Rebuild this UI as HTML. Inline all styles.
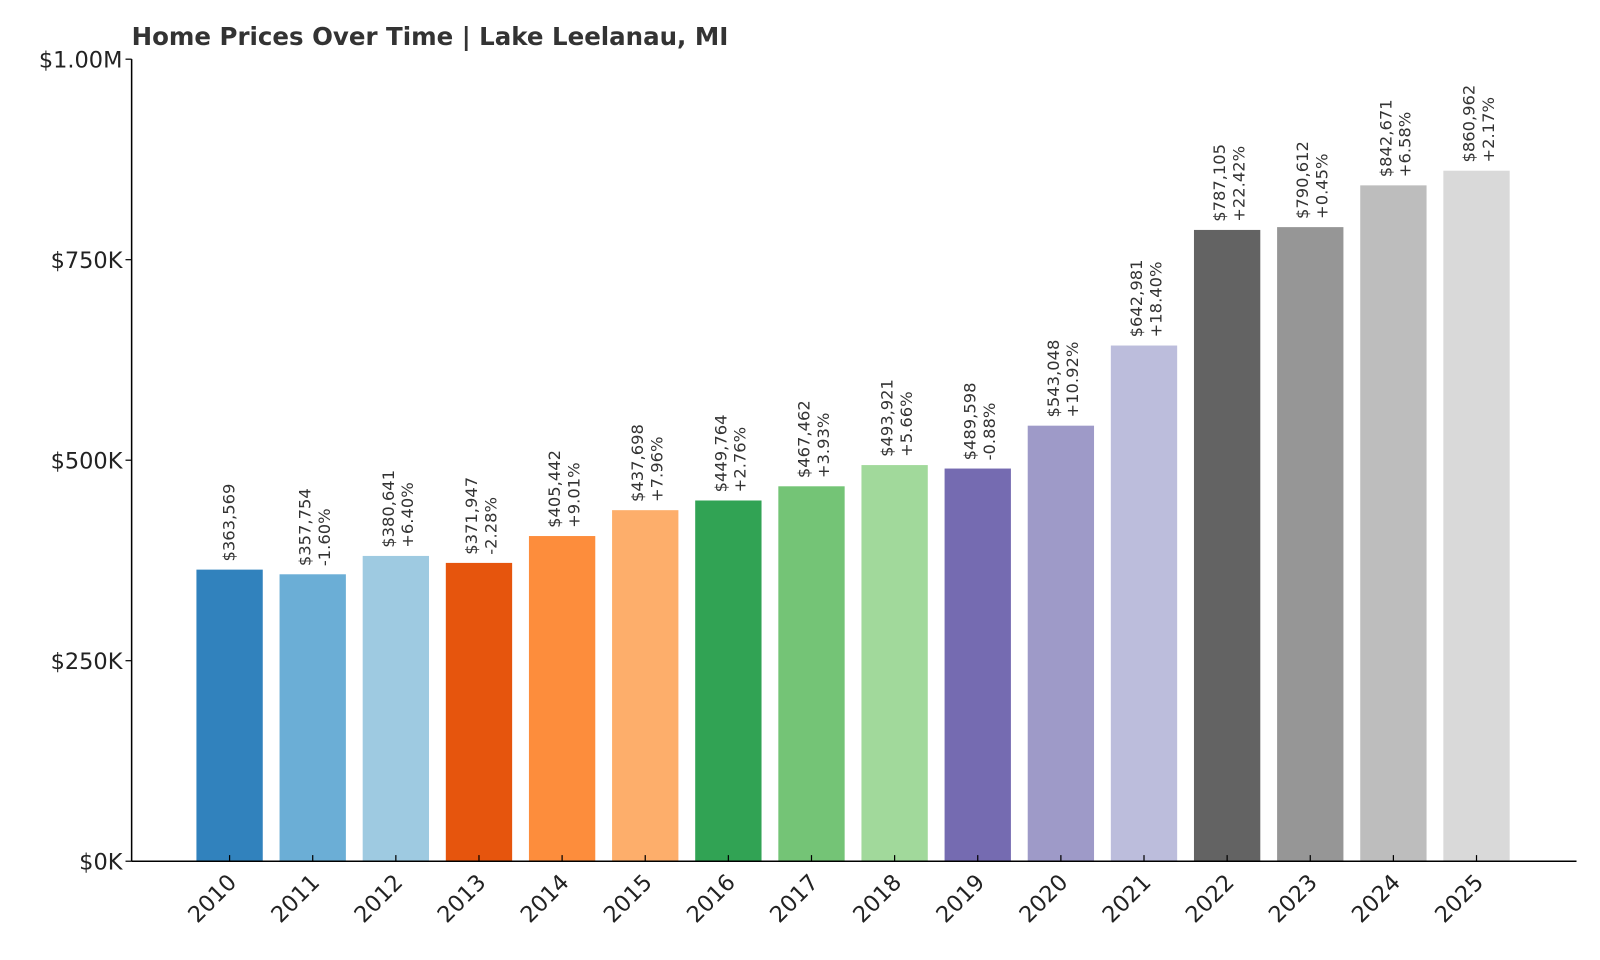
<!DOCTYPE html>
<html><head><meta charset="utf-8"><style>
body{margin:0;background:#fff;}
svg{display:block;font-family:"DejaVu Sans","Liberation Sans",sans-serif;}
</style></head><body>
<svg id="chart" width="1600" height="960" viewBox="0 0 1600 960">
<g transform="scale(1.0204)">
<text x="129" y="44" font-size="24" font-weight="bold" fill="#333">Home Prices Over Time | Lake Leelanau, MI</text>
<g id="plot"></g>
</g>
</svg>
<script>
const years=["2010","2011","2012","2013","2014","2015","2016","2017","2018","2019","2020","2021","2022","2023","2024","2025"];
const prices=[363569,357754,380641,371947,405442,437698,449764,467462,493921,489598,543048,642981,787105,790612,842671,860962];
const changes=["","-1.60%","+6.40%","-2.28%","+9.01%","+7.96%","+2.76%","+3.93%","+5.66%","-0.88%","+10.92%","+18.40%","+22.42%","+0.45%","+6.58%","+2.17%"];
const yTickValues=[0,250000,500000,750000,1000000];
const yTickLabels=["$0K","$250K","$500K","$750K","$1.00M"];
const colors=["#3182bd","#6baed6","#9ecae1","#e6550d","#fd8d3c","#fdae6b","#31a354","#74c476","#a1d99b","#756bb1","#9e9ac8","#bcbddc","#636363","#969696","#bdbdbd","#d9d9d9"];
const NS="http://www.w3.org/2000/svg";
const g=document.getElementById('plot');
const x0=129,x1=1545,yb=844,yt=58;
const y=v=>yb-(v/1000000)*(yb-yt);
const xc=i=>225+i*(1447-225)/15;
const bw=65;
function mk(t,a){const e=document.createElementNS(NS,t);for(const k in a)e.setAttribute(k,a[k]);g.appendChild(e);return e;}
years.forEach((yr,i)=>{
 const b=mk('rect',{x:xc(i)-bw/2,y:y(prices[i]),width:bw,height:yb-y(prices[i]),fill:colors[i]});
 
 
 const tk=mk('line',{x1:xc(i),x2:xc(i),y1:yb,y2:yb-6,stroke:'#000','stroke-width':1.2});
 
 
 const lb=mk('text',{transform:`translate(${xc(i)+8},${yb+22}) rotate(-45)`,'text-anchor':'end','font-size':22,fill:'#222'});
 lb.textContent=yr;
 
 
 const top=y(prices[i])-8;
 const v=mk('text',{transform:`translate(${xc(i)+(changes[i]?-2:5)},${top}) rotate(-90)`,'font-size':16,fill:'#333'});
 v.textContent='$'+prices[i].toLocaleString('en-US');
 
 
 if(changes[i]){
  const c=mk('text',{transform:`translate(${xc(i)+17},${top}) rotate(-90)`,'font-size':16,fill:'#333'});
  c.textContent=changes[i];
  
  
 }
});
yTickValues.forEach((v,i)=>{
 const t=mk('line',{x1:x0-6,x2:x0,y1:y(v),y2:y(v),stroke:'#000','stroke-width':1.2});
 
 
 const l=mk('text',{x:x0-9,y:y(v)+8,'text-anchor':'end','font-size':22,fill:'#222'});
 l.textContent=yTickLabels[i];
 
 
});
const ya=mk('line',{x1:x0,x2:x0,y1:yt,y2:yb,stroke:'#000','stroke-width':1.5});


const xa=mk('line',{x1:x0,x2:x1,y1:yb,y2:yb,stroke:'#000','stroke-width':1.5});


</script>
</body></html>
